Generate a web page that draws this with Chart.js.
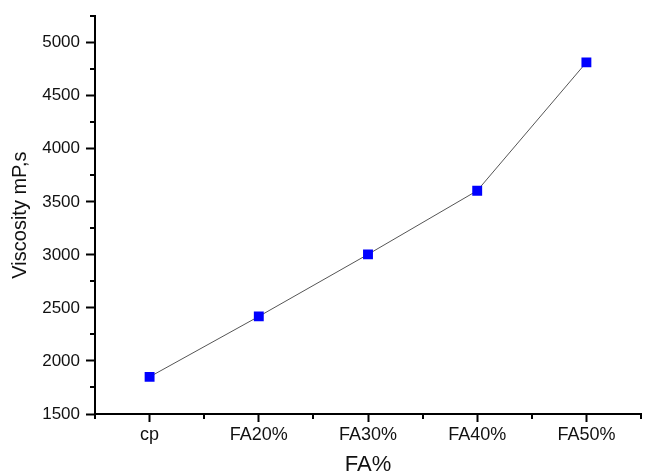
<!DOCTYPE html>
<html>
<head>
<meta charset="utf-8">
<script src="https://cdn.jsdelivr.net/npm/chart.js@4"></script>
<style>
  html, body { margin: 0; padding: 0; background: #fff; }
  canvas { display: block; }
</style>
</head>
<body>
<canvas id="visc" width="648" height="471"></canvas>
<script>
// viscosity vs fly ash content
var categories = ["cp", "FA20%", "FA30%", "FA40%", "FA50%"];
var viscosity = [1850, 2420, 3005, 3605, 4815];
var yTicks = [1500, 2000, 2500, 3000, 3500, 4000, 4500, 5000];
var yMinor = [1750, 2250, 2750, 3250, 3750, 4250, 4750, 5250];
var yMin = 1500;
var yMax = 5250;

var font = "'Liberation Sans', Arial, sans-serif";

// small unlabelled ticks between the labelled ones
var minorTicks = {
  id: "minorTicks",
  afterDraw: function (chart) {
    var ctx = chart.ctx;
    var xs = chart.scales.x;
    var ys = chart.scales.y;
    ctx.save();
    ctx.strokeStyle = "#000";
    ctx.lineWidth = 2;
    ctx.beginPath();
    yMinor.forEach(function (v) {
      var py = Math.round(ys.getPixelForValue(v));
      ctx.moveTo(ys.right - 5, py);
      ctx.lineTo(ys.right, py);
    });
    for (var i = 0; i <= categories.length; i++) {
      var px = Math.round(xs.getPixelForValue(i - 0.5));
      ctx.moveTo(px, xs.top);
      ctx.lineTo(px, xs.top + 5);
    }
    ctx.stroke();
    ctx.restore();
  }
};

new Chart("visc", {
  type: "line",
  data: {
    labels: categories,
    datasets: [
      {
        data: viscosity,
        borderColor: "#555",
        borderWidth: 1,
        pointStyle: "rect",
        pointRadius: 7,
        pointBackgroundColor: "#0000ff",
        pointBorderColor: "#0000ff",
        pointBorderWidth: 0,
        tension: 0,
      },
    ],
  },
  options: {
    responsive: false,
    animation: false,
    layout: { padding: { top: 15, left: 0, right: 0, bottom: 0 } },
    plugins: {
      legend: { display: false },
      tooltip: { enabled: false },
    },
    scales: {
      x: {
        offset: true,
        border: { display: true, color: "#000", width: 2 },
        grid: {
          drawOnChartArea: false,
          drawTicks: true,
          tickLength: 8,
          tickWidth: 2,
          tickColor: "#000",
          offset: false,
        },
        ticks: {
          color: "#111",
          padding: 2,
          maxRotation: 0,
          font: { family: font, size: 18 },
        },
        title: {
          display: true,
          text: "FA%",
          color: "#111",
          font: { family: font, size: 22, lineHeight: 1 },
          padding: { top: 0, bottom: -5 },
        },
        afterFit: function (scale) {
          scale.height = 57;
        },
      },
      y: {
        min: yMin,
        max: yMax,
        border: { display: true, color: "#000", width: 2 },
        grid: {
          drawOnChartArea: false,
          drawTicks: true,
          tickLength: 9,
          tickWidth: 2,
          tickColor: "#000",
        },
        afterBuildTicks: function (scale) {
          scale.ticks = yTicks.map(function (v) { return { value: v }; });
        },
        ticks: {
          color: "#111",
          padding: 6,
          font: { family: font, size: 17 },
          callback: function (v) { return String(v); },
        },
        title: {
          display: true,
          text: "Viscosity mP,s",
          color: "#111",
          font: { family: font, size: 20 },
          padding: { top: 8, bottom: 0 },
        },
        afterFit: function (scale) {
          scale.width = 95;
        },
      },
    },
  },
  plugins: [minorTicks],
});
</script>
</body>
</html>
